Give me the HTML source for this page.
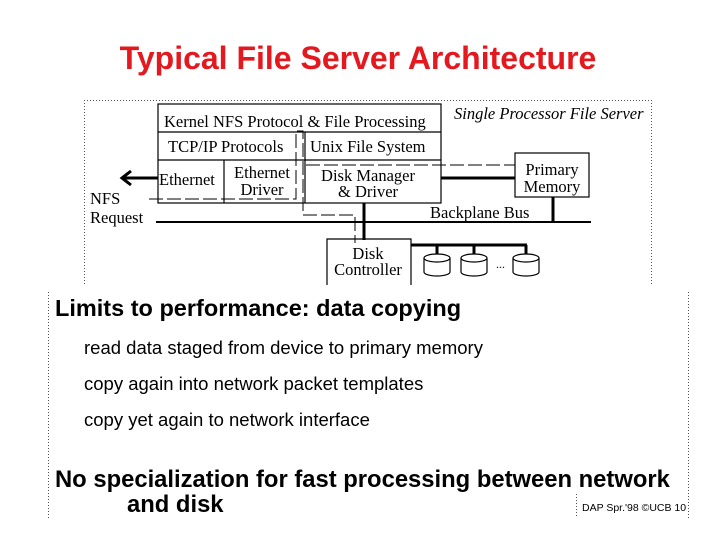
<!DOCTYPE html>
<html><head><meta charset="utf-8"><style>
body{margin:0;width:720px;height:540px;background:#fff;overflow:hidden}
svg{display:block}
</style></head><body>
<svg width="720" height="540" xmlns="http://www.w3.org/2000/svg">
<text x="358" y="69" text-anchor="middle" font-family="Liberation Sans, sans-serif" font-weight="bold" font-size="32" fill="#e3191f">Typical File Server Architecture</text>
<g stroke="#555" stroke-width="1" stroke-dasharray="1,2" fill="none">
<line x1="84.5" y1="100" x2="84.5" y2="286"/>
<line x1="84" y1="100.5" x2="652" y2="100.5"/>
<line x1="651.5" y1="100" x2="651.5" y2="286"/>
<line x1="48.5" y1="292" x2="48.5" y2="518"/>
<line x1="688.5" y1="292" x2="688.5" y2="518"/>
<line x1="576.5" y1="494" x2="576.5" y2="517"/>
</g>
<g font-family="Liberation Serif, serif" font-size="16.5" fill="#000">
<g stroke="#000" stroke-width="1.2" fill="none">
<rect x="158" y="104" width="283" height="99"/>
<line x1="158" y1="132" x2="441" y2="132"/>
<line x1="158" y1="160" x2="441" y2="160"/>
<line x1="224" y1="160" x2="224" y2="203"/>
<line x1="305" y1="132" x2="305" y2="203"/>
<rect x="515" y="153" width="74" height="44"/>
<path d="M327 285 V239 H411 V285"/>
</g>
<g stroke="#000" stroke-width="1" fill="none" stroke-dasharray="14,4">
<path d="M149 199 H296 V131 H303 V215 H355 V243"/>
<line x1="306" y1="165" x2="515" y2="165"/>
</g>
<g stroke="#000" stroke-width="3" fill="none">
<line x1="441" y1="178" x2="515" y2="178"/>
<line x1="553" y1="197" x2="553" y2="222"/>
<line x1="364" y1="203" x2="364" y2="240"/>
<line x1="411" y1="245" x2="527" y2="245"/>
<line x1="437" y1="245" x2="437" y2="258"/>
<line x1="474" y1="245" x2="474" y2="258"/>
<line x1="526" y1="245" x2="526" y2="258"/>
<line x1="124" y1="178" x2="158" y2="178"/>
<path d="M131 171 L122 178 L131 185"/>
</g>
<line x1="156" y1="222" x2="591" y2="222" stroke="#000" stroke-width="2"/>
<g stroke="#000" stroke-width="1.2" fill="#fff">
<path d="M424 258 V272 A13 4 0 0 0 450 272 V258"/><ellipse cx="437" cy="258" rx="13" ry="4"/>
<path d="M461 258 V272 A13 4 0 0 0 487 272 V258"/><ellipse cx="474" cy="258" rx="13" ry="4"/>
<path d="M513 258 V272 A13 4 0 0 0 539 272 V258"/><ellipse cx="526" cy="258" rx="13" ry="4"/>
</g>
<text x="496" y="268" font-size="12">...</text>
<text x="164" y="127">Kernel NFS Protocol &amp; File Processing</text>
<text x="168" y="152">TCP/IP Protocols</text>
<text x="310" y="152">Unix File System</text>
<text x="159" y="185">Ethernet</text>
<text x="262" y="178" text-anchor="middle">Ethernet</text>
<text x="262" y="195" text-anchor="middle">Driver</text>
<text x="368" y="181" text-anchor="middle">Disk Manager</text>
<text x="368" y="197" text-anchor="middle">&amp; Driver</text>
<text x="552" y="175" text-anchor="middle">Primary</text>
<text x="552" y="192" text-anchor="middle">Memory</text>
<text x="90" y="204">NFS</text>
<text x="90" y="223">Request</text>
<text x="430" y="218">Backplane Bus</text>
<text x="454" y="119" font-style="italic">Single Processor File Server</text>
<text x="368" y="259" text-anchor="middle">Disk</text>
<text x="368" y="275" text-anchor="middle">Controller</text>
</g>
<g font-family="Liberation Sans, sans-serif" fill="#000">
<text x="55" y="316" font-size="23.5" font-weight="bold">Limits to performance: data copying</text>
<text x="84" y="354" font-size="18.5">read data staged from device to primary memory</text>
<text x="84" y="390" font-size="18.5">copy again into network packet templates</text>
<text x="84" y="426" font-size="18.5">copy yet again to network interface</text>
<text x="55" y="487" font-size="23.8" font-weight="bold">No specialization for fast processing between network</text>
<text x="127" y="512" font-size="23.8" font-weight="bold">and disk</text>
<text x="582" y="511" font-size="10.5">DAP Spr.'98 ©UCB 10</text>
</g>
</svg>
</body></html>
